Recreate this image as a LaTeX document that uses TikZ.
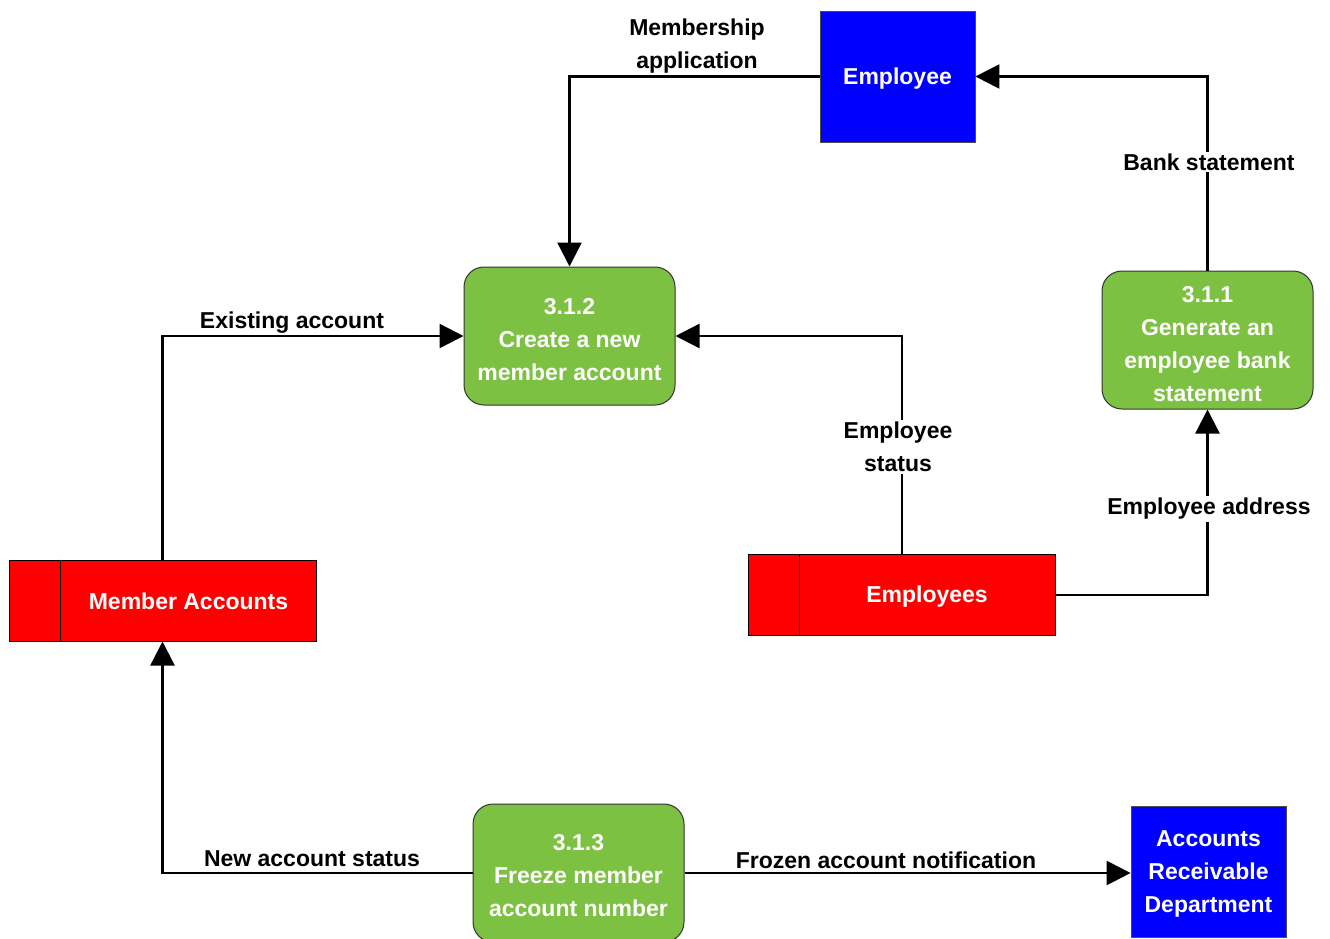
\documentclass[tikz,border=0pt]{standalone}
\usepackage{fontspec}
\setmainfont{Liberation Sans}
\usetikzlibrary{arrows.meta}
\definecolor{procgreen}{HTML}{7DC142}
\definecolor{extblue}{HTML}{0000FF}
\definecolor{storered}{HTML}{FF0000}
\tikzset{
  every node/.style={font=\fontsize{23}{33}\selectfont\bfseries, inner sep=1pt},
  process/.style={draw=black!80, line width=1pt, fill=procgreen, rounded corners=20pt,
    minimum width=211pt, minimum height=138pt},
  entity/.style={draw=black!70, line width=0.8pt, fill=extblue, minimum width=155pt,
    minimum height=131pt},
  store/.style={draw=black, line width=1pt, fill=storered, minimum width=307pt,
    minimum height=81pt},
  boxtext/.style={text=white, align=center},
  flow/.style={line width=2.4pt, -{Triangle[length=24pt,width=24pt]}},
  flowlabel/.style={align=center, text=black},
  onwire/.style={flowlabel, fill=white, inner sep=2pt},
}
\begin{document}
\begin{tikzpicture}[x=1pt, y=-1pt]
\useasboundingbox (0,0) rectangle (1330,938);
\clip (0,0) rectangle (1330,938);

% external entities
\node[entity] (emp) at (897.5,76.5) {};
\node[boxtext] at ([yshift=-2.5pt]emp.center) {Employee};
\node[entity] (ard) at (1208.5,871.5) {};
\node[boxtext] at ([yshift=-2pt]ard.center) {Accounts\\Receivable\\Department};

% processes
\node[process] (p312) at (569.5,336) {};
\node[boxtext] at ([yshift=-3.5pt]p312.center) {3.1.2\\Create a new\\member account};
\node[process] (p311) at (1207.5,340) {};
\node[boxtext] at ([yshift=-4.5pt]p311.center) {3.1.1\\Generate an\\employee bank\\statement};
\node[process] (p313) at (578.5,873) {};
\node[boxtext] at ([yshift=-2.5pt]p313.center) {3.1.3\\Freeze member\\account number};

% data stores
\node[store] (ma) at (162.5,600.5) {};
\draw[line width=1pt] ([xshift=52pt]ma.north west) -- ([xshift=52pt]ma.south west);
\node[boxtext] at ([xshift=26pt,yshift=-1pt]ma.center) {Member Accounts};
\node[store] (es) at (902,595) {};
\draw[line width=1pt] ([xshift=51pt]es.north west) -- ([xshift=51pt]es.south west);
\node[boxtext] at ([xshift=25pt,yshift=-2pt]es.center) {Employees};

% data flows
\draw[flow] (emp.west) -| (p312.north);
\node[flowlabel] at (697,46.5) {Membership\\application};

\draw[flow] (p311.north) |- (emp.east);
\node[onwire] at (1209,162) {Bank statement};

\draw[flow] (ma.north) |- (p312.west);
\node[flowlabel] at (292,323) {Existing account};

\draw[flow] (es.north) |- (p312.east);
\node[onwire] at (898,447) {Employee\\status};

\draw[flow] (es.east) -| (p311.south);
\node[onwire] at (1209,509) {Employee address};

\draw[flow] (p313.west) -| (ma.south);
\node[flowlabel] at (312,859) {New account status};

\draw[flow] (p313.east) -- (ard.west |- p313.east);
\node[flowlabel] at (886,860) {Frozen account notification};
\end{tikzpicture}
\end{document}
